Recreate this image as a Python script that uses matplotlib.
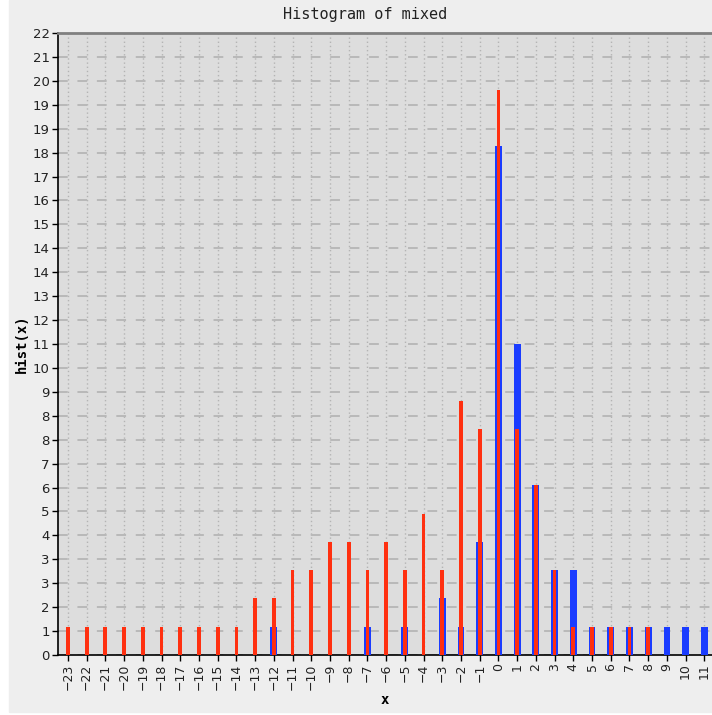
import numpy as np
import matplotlib
matplotlib.use("Agg")
import matplotlib.pyplot as plt
from matplotlib.patches import Rectangle
from matplotlib.ticker import FixedLocator, FuncFormatter

# bin centres and counts
bins = list(range(-23, 12))
red_counts = [1, 1, 1, 1, 1, 1, 1, 1, 1, 1,      # -23 .. -14
              2, 2, 3, 3, 4, 4, 3, 4, 3, 5,      # -13 .. -4
              3, 9, 8, 20, 8, 6, 3, 1, 1, 1,     # -3 .. 6
              1, 1, 0, 0, 0]                     # 7 .. 11
blue_counts = [0, 0, 0, 0, 0, 0, 0, 0, 0, 0,     # -23 .. -14
               0, 1, 0, 0, 0, 0, 1, 0, 1, 0,     # -13 .. -4
               2, 1, 4, 18, 11, 6, 3, 3, 1, 1,   # -3 .. 6
               1, 1, 1, 1, 1]                    # 7 .. 11
y_max = 22
n_yticks = 26

fig = plt.figure(figsize=(7.12, 7.15), dpi=100, facecolor="white")
fig.patches.append(Rectangle((9 / 712, 3 / 715), 1 - 9 / 712, 1 - 3 / 715,
                             transform=fig.transFigure, color="#eeeeee", zorder=-10))

ax = fig.add_axes([58 / 712, 1 - 655 / 715, 1 - 58 / 712, (655 - 33) / 715])
ax.set_facecolor("#dddddd")

x = np.array(bins)
ax.bar(x, blue_counts, width=0.36, color="#1a3cff", zorder=3)
ax.bar(x, red_counts, width=0.2, color="#ff3010", zorder=4)

ax.set_xlim(-23.53, 11.41)
ax.set_ylim(0, y_max)

yt = [k * y_max / n_yticks for k in range(n_yticks + 1)]
ax.yaxis.set_major_locator(FixedLocator(yt))
ax.yaxis.set_major_formatter(FuncFormatter(lambda v, p: str(int(round(v)))))
ax.set_xticks(bins)
ax.set_xticklabels([str(b).replace("-", "\u2212") for b in bins], rotation=90)

ax.tick_params(axis="y", labelsize=9.5, length=4, width=1, color="black",
               labelcolor="#222222", pad=2)
ax.tick_params(axis="x", labelsize=9, length=4, width=1, color="black",
               labelcolor="#222222", pad=2)

ax.grid(axis="y", color="#b8b8b8", linestyle=(0, (5, 5)), linewidth=1.4, zorder=1)
ax.grid(axis="x", color="#b4b4b4", linestyle=(0, (1, 2)), linewidth=1.0, zorder=1)
ax.set_axisbelow(True)

ax.spines["left"].set_color("black")
ax.spines["bottom"].set_color("black")
ax.spines["left"].set_linewidth(1.2)
ax.spines["bottom"].set_linewidth(1.2)
ax.spines["top"].set_color("#808080")
ax.spines["top"].set_linewidth(2)
ax.spines["right"].set_visible(False)

fig.text(365 / 712, 1 - 15 / 715, "Histogram of mixed", family="DejaVu Sans Mono",
         fontsize=11, ha="center", va="center", color="#222222")
fig.text(22 / 712, 1 - 344 / 715, "hist(x)", family="DejaVu Sans Mono",
         fontweight="bold", fontsize=10, rotation=90, ha="center", va="center")
fig.text(385 / 712, 1 - 700 / 715, "x", family="DejaVu Sans Mono",
         fontweight="bold", fontsize=10, ha="center", va="center")

fig.savefig("out.png", dpi=100, facecolor=fig.get_facecolor())
